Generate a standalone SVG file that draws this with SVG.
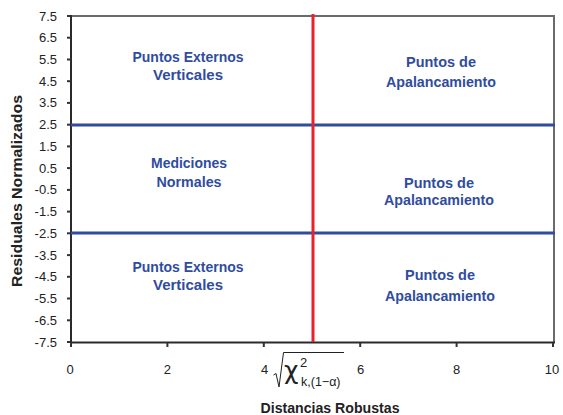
<svg xmlns="http://www.w3.org/2000/svg" width="563" height="415" viewBox="0 0 563 415">
<style>
.tick{font-family:"Liberation Sans",Arial,sans-serif;font-size:13px;fill:#222}
.ty{text-anchor:end}
.tx{text-anchor:middle}
.lbl{font-family:"Liberation Sans",Arial,sans-serif;font-size:15px;font-weight:bold;fill:#2F4C9F;text-anchor:middle}
.title{font-family:"Liberation Sans",Arial,sans-serif;font-size:15.5px;font-weight:bold;fill:#222;text-anchor:middle}
.tk{stroke:#333;stroke-width:2}
</style>
<rect width="563" height="415" fill="#fff"/>
<g id="frame">
<line x1="70" y1="16" x2="555" y2="16" stroke="#6b6b6b" stroke-width="2"/>
<line x1="554" y1="16" x2="554" y2="343" stroke="#6b6b6b" stroke-width="2"/>
<line x1="71" y1="15" x2="71" y2="343" stroke="#2a2a2a" stroke-width="2"/>
<line x1="70" y1="342.5" x2="555" y2="342.5" stroke="#2a2a2a" stroke-width="2"/>
</g>
<g id="yticks">
<g class="tk">
<line x1="67" y1="16" x2="71" y2="16"/><line x1="67" y1="37.7" x2="71" y2="37.7"/><line x1="67" y1="59.5" x2="71" y2="59.5"/><line x1="67" y1="81.2" x2="71" y2="81.2"/><line x1="67" y1="102.9" x2="71" y2="102.9"/><line x1="67" y1="124.7" x2="71" y2="124.7"/><line x1="67" y1="146.4" x2="71" y2="146.4"/><line x1="67" y1="168.1" x2="71" y2="168.1"/><line x1="67" y1="189.9" x2="71" y2="189.9"/><line x1="67" y1="211.6" x2="71" y2="211.6"/><line x1="67" y1="233.3" x2="71" y2="233.3"/><line x1="67" y1="255.1" x2="71" y2="255.1"/><line x1="67" y1="276.8" x2="71" y2="276.8"/><line x1="67" y1="298.5" x2="71" y2="298.5"/><line x1="67" y1="320.3" x2="71" y2="320.3"/><line x1="67" y1="342" x2="71" y2="342"/>
</g>
<text class="tick ty" x="57" y="20.5">7.5</text>
<text class="tick ty" x="57" y="42.2">6.5</text>
<text class="tick ty" x="57" y="64">5.5</text>
<text class="tick ty" x="57" y="85.7">4.5</text>
<text class="tick ty" x="57" y="107.4">3.5</text>
<text class="tick ty" x="57" y="129.2">2.5</text>
<text class="tick ty" x="57" y="150.9">1.5</text>
<text class="tick ty" x="57" y="172.6">0.5</text>
<text class="tick ty" x="57" y="194.4">-0.5</text>
<text class="tick ty" x="57" y="216.1">-1.5</text>
<text class="tick ty" x="57" y="237.8">-2.5</text>
<text class="tick ty" x="57" y="259.6">-3.5</text>
<text class="tick ty" x="57" y="281.3">-4.5</text>
<text class="tick ty" x="57" y="303">-5.5</text>
<text class="tick ty" x="57" y="324.8">-6.5</text>
<text class="tick ty" x="57" y="346.5">-7.5</text>
</g>
<g id="xticks">
<g class="tk">
<line x1="167.4" y1="343" x2="167.4" y2="347"/><line x1="263.8" y1="343" x2="263.8" y2="347"/><line x1="360.2" y1="343" x2="360.2" y2="347"/><line x1="456.6" y1="343" x2="456.6" y2="347"/><line x1="71" y1="343" x2="71" y2="347"/><line x1="553" y1="343" x2="553" y2="347"/>
</g>
<text class="tick tx" x="70" y="374">0</text>
<text class="tick tx" x="167.4" y="374">2</text>
<text class="tick tx" x="264.5" y="374">4</text>
<text class="tick tx" x="360.5" y="374">6</text>
<text class="tick tx" x="456.6" y="374">8</text>
<text class="tick tx" x="552" y="374">10</text>
</g>
<g id="connectors">
<line x1="71" y1="125" x2="555" y2="125" stroke="#2F4C9F" stroke-width="3"/>
<line x1="71" y1="233" x2="555" y2="233" stroke="#2F4C9F" stroke-width="3"/>
<line x1="313" y1="14" x2="313" y2="342" stroke="#E8222B" stroke-width="3"/>
</g>
<g id="chi-label">
<path d="M273.5,375 L276,373.5 L279,387 L283.5,352.5 L344,352.5" fill="none" stroke="#222" stroke-width="1"/>
<text x="284" y="379" font-family="DejaVu Sans,sans-serif" font-size="25" fill="#222">χ</text>
<text x="300" y="367" font-family="Liberation Sans,Arial,sans-serif" font-size="13" fill="#222">2</text>
<text x="301" y="386" font-family="Liberation Sans,Arial,sans-serif" font-size="12.5" fill="#222">k,(1−α)</text>
</g>
<g id="node-tl"><text class="lbl" x="188" y="62" textLength="111" lengthAdjust="spacingAndGlyphs">Puntos Externos</text><text class="lbl" x="188" y="80" textLength="70" lengthAdjust="spacingAndGlyphs">Verticales</text></g>
<g id="node-tr"><text class="lbl" x="441" y="67" textLength="70" lengthAdjust="spacingAndGlyphs">Puntos de</text><text class="lbl" x="441" y="87" textLength="110" lengthAdjust="spacingAndGlyphs">Apalancamiento</text></g>
<g id="node-ml"><text class="lbl" x="189" y="168" textLength="76" lengthAdjust="spacingAndGlyphs">Mediciones</text><text class="lbl" x="189" y="187" textLength="65" lengthAdjust="spacingAndGlyphs">Normales</text></g>
<g id="node-mr"><text class="lbl" x="439" y="188" textLength="70" lengthAdjust="spacingAndGlyphs">Puntos de</text><text class="lbl" x="439" y="205" textLength="110" lengthAdjust="spacingAndGlyphs">Apalancamiento</text></g>
<g id="node-bl"><text class="lbl" x="188" y="272" textLength="111" lengthAdjust="spacingAndGlyphs">Puntos Externos</text><text class="lbl" x="188" y="290" textLength="70" lengthAdjust="spacingAndGlyphs">Verticales</text></g>
<g id="node-br"><text class="lbl" x="440" y="280" textLength="70" lengthAdjust="spacingAndGlyphs">Puntos de</text><text class="lbl" x="440" y="301" textLength="110" lengthAdjust="spacingAndGlyphs">Apalancamiento</text></g>
<text class="title" x="330" y="413" textLength="139" lengthAdjust="spacingAndGlyphs">Distancias Robustas</text>
<text class="title" transform="translate(22,191) rotate(-90)" textLength="192" lengthAdjust="spacingAndGlyphs">Residuales Normalizados</text>
</svg>
